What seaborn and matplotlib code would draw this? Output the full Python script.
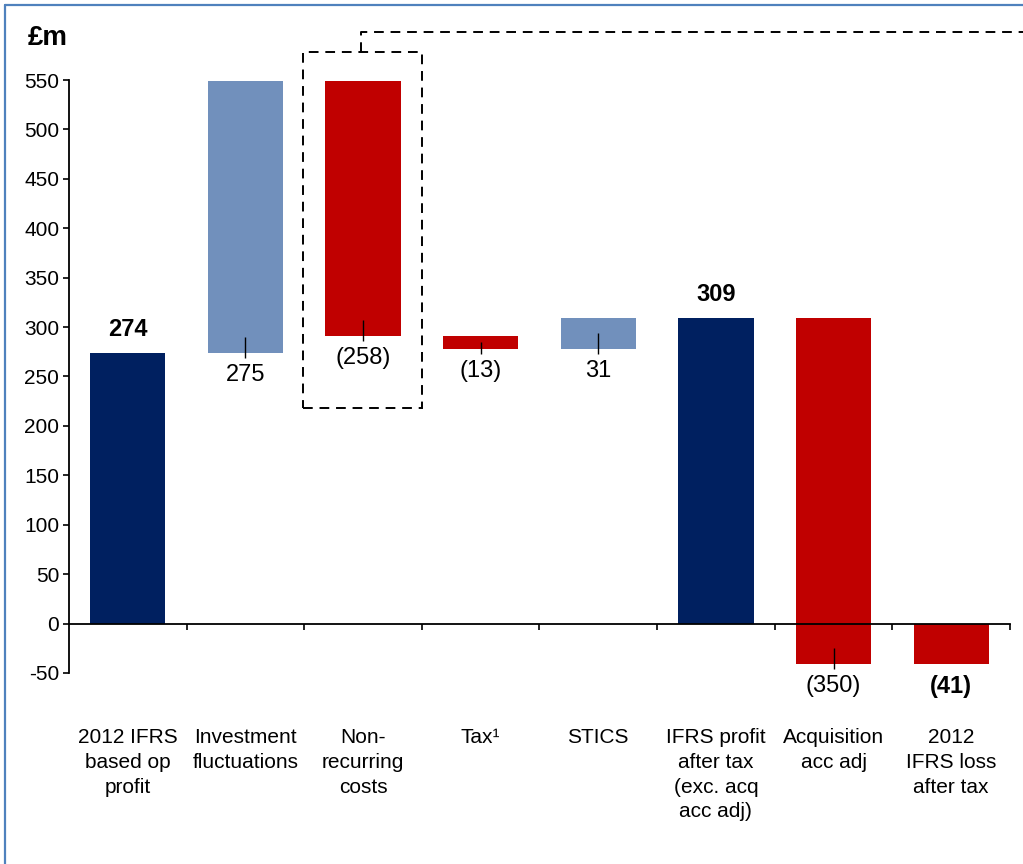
import matplotlib.pyplot as plt
import matplotlib.transforms as mtransforms
from matplotlib.lines import Line2D
from matplotlib.patches import Rectangle
import pandas as pd
import seaborn as sns

# Waterfall data (£m)
categories = [
    "2012 IFRS\nbased op\nprofit",
    "Investment\nfluctuations",
    "Non-\nrecurring\ncosts",
    "Tax\u00b9",
    "STICS",
    "IFRS profit\nafter tax\n(exc. acq\nacc adj)",
    "Acquisition\nacc adj",
    "2012\nIFRS loss\nafter tax",
]
values = [274, 275, -258, -13, 31, 309, -350, -41]
kinds = ["total", "step", "step", "step", "step", "total", "step", "total"]
bar_colors = ["#002060", "#7190BC", "#C00000", "#C00000",
              "#7190BC", "#002060", "#C00000", "#C00000"]
y_ticks = list(range(-50, 551, 50))

# Running base for each floating bar
bases = []
running = 0
for v, k in zip(values, kinds):
    if k == "total":
        bases.append(0)
        running = v
    else:
        bases.append(running)
        running += v

sns.set_style("ticks")
plt.rcParams["font.family"] = ["Liberation Sans", "DejaVu Sans"]
plt.rcParams.update({
    "text.color": "black",
    "axes.labelcolor": "black",
    "xtick.color": "black",
    "ytick.color": "black",
})

fig = plt.figure(figsize=(10.23, 8.64), dpi=100)
ax = fig.add_axes([0.0674, 0.2211, 0.9199, 0.6863])

df = pd.DataFrame({"category": categories, "value": values})
sns.barplot(data=df, x="category", y="value", hue="category",
            palette=bar_colors, width=0.64, saturation=1,
            legend=False, ax=ax, linewidth=0)

# Float the step bars on their running base
for patch, base in zip(ax.patches, bases):
    patch.set_y(base)

ax.set_xlim(-0.5, 7.5)
ax.set_ylim(-50, 550)
ax.set_xlabel("")
ax.set_ylabel("")

# Axes styling: x-axis at zero, ticks between categories
for side in ["top", "right"]:
    ax.spines[side].set_visible(False)
ax.spines["bottom"].set_position(("data", 0))
ax.spines["left"].set_bounds(-50, 550)
for side in ["left", "bottom"]:
    ax.spines[side].set_linewidth(1.3)
    ax.spines[side].set_color("black")

ax.set_xticks([i + 0.5 for i in range(len(categories))])
ax.set_xticklabels([])
ax.tick_params(axis="x", length=4, width=1.2, direction="out")
ax.set_yticks(y_ticks)
ax.set_yticklabels([str(t) for t in y_ticks], fontsize=15)
ax.tick_params(axis="y", length=4, width=1.2, pad=3)

# Category labels below the plot
trans = mtransforms.blended_transform_factory(ax.transData, ax.transAxes)
for i, label in enumerate(categories):
    ax.text(i, -0.093, label, transform=trans, ha="center", va="top",
            fontsize=15, linespacing=1.38)

# Value labels and leader lines
for i, (v, k, base) in enumerate(zip(values, kinds, bases)):
    low = min(base, base + v)
    high = max(base, base + v)
    text = f"({abs(v)})" if v < 0 else str(v)
    weight = "bold" if k == "total" else "normal"
    if k == "total" and v > 0:
        ax.annotate(text, (i, high), xytext=(0, 17), textcoords="offset points",
                    ha="center", va="center", fontsize=17, fontweight=weight)
    else:
        ax.annotate(text, (i, low), xytext=(0, -16), textcoords="offset points",
                    ha="center", va="center", fontsize=17, fontweight=weight)
    if k == "step":
        ax.vlines(i, low - 5, low + min(16, 0.55 * abs(v)), color="black", lw=1)

# Dashed highlight box around non-recurring costs and its connector
dash = (0, (5, 3.5))
ax.add_patch(Rectangle((1.49, 218), 1.01, 360, fill=False, ls=dash,
                       lw=1.4, ec="black", clip_on=False))
ax.add_line(Line2D([1.98, 1.98, 8.7], [578, 599, 599], ls=dash, lw=1.4,
                   color="black", clip_on=False))

# Unit label
fig.text(48 / 1023, 1 - 38 / 864, "\u00a3m", ha="center", va="center",
         fontsize=20, fontweight="bold")

# Slide frame on top and left edges
fig.add_artist(Line2D([5 / 1023, 1], [1 - 5 / 864, 1 - 5 / 864],
                      color="#4F81BD", lw=1.6))
fig.add_artist(Line2D([5 / 1023, 5 / 1023], [0, 1 - 5 / 864],
                      color="#4F81BD", lw=1.6))

fig.savefig("out.png", dpi=100)
